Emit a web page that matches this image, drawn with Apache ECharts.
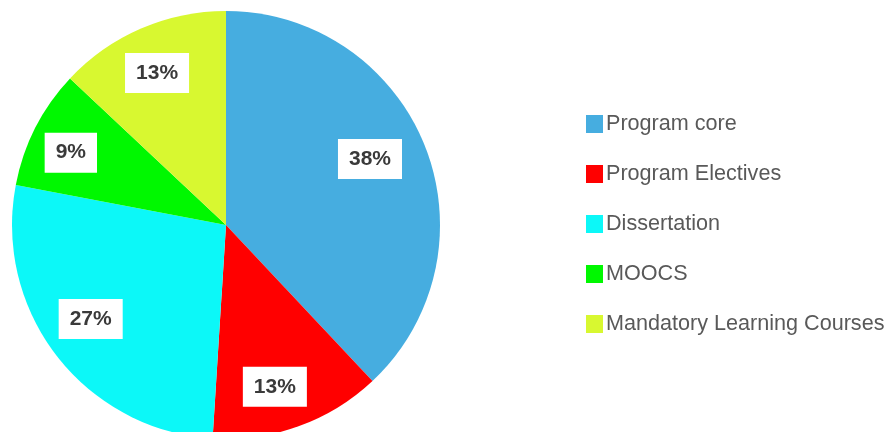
<!DOCTYPE html>
<html>
<head>
<meta charset="utf-8">
<script src="https://cdn.jsdelivr.net/npm/echarts@6/dist/echarts.min.js"></script>
<style>html,body{margin:0;padding:0;background:#fff;}#c{width:888px;height:432px;}</style>
</head>
<body>
<div id="c"></div>
<script>
var categories = ['Program core', 'Program Electives', 'Dissertation', 'MOOCS', 'Mandatory Learning Courses'];
var values = [38, 13, 27, 9, 13];
var colors = ['#46ADE0', '#FF0000', '#0CF8F8', '#00F800', '#D8F830'];
// label placement (fraction of radius, angle shift in degrees)
var labelRatio = [0.74, 0.79, 0.77, 0.80, 0.78];
var labelShift = [-3, 3, 3, -2, -1];

var CX = 226, CY = 225, R = 214;
var total = values.reduce(function (a, b) { return a + b; }, 0);

var chart = echarts.init(document.getElementById('c'));
chart.setOption({
  animation: false,
  color: colors,
  legend: {
    orient: 'vertical',
    left: 581,
    top: 108,
    itemWidth: 17,
    itemHeight: 18,
    itemGap: 28,
    icon: 'rect',
    data: categories,
    textStyle: { fontFamily: 'Liberation Sans, Arial, sans-serif', fontSize: 21.6, color: '#595959', padding: [0, 0, 0, -2] }
  },
  series: [{
    type: 'pie',
    center: [CX, CY],
    radius: [0, R],
    startAngle: 90,
    clockwise: true,
    silent: true,
    itemStyle: { borderWidth: 0 },
    label: {
      show: true,
      position: 'inside',
      formatter: '{d}%',
      fontFamily: 'Liberation Sans, Arial, sans-serif',
      fontWeight: 'bold',
      fontSize: 21,
      color: '#3a3a3a',
      backgroundColor: '#ffffff',
      padding: [10, 11, 9, 11]
    },
    labelLine: { show: false },
    labelLayout: function (p) {
      var i = p.dataIndex;
      var before = 0;
      for (var j = 0; j < i; j++) before += values[j];
      var mid = (before + values[i] / 2) / total * 360 + labelShift[i];
      var a = mid * Math.PI / 180;
      var r = R * labelRatio[i];
      return { x: CX + r * Math.sin(a), y: CY - r * Math.cos(a), align: 'center', verticalAlign: 'middle' };
    },
    data: categories.map(function (n, i) { return { name: n, value: values[i] }; })
  }]
});
</script>
</body>
</html>
